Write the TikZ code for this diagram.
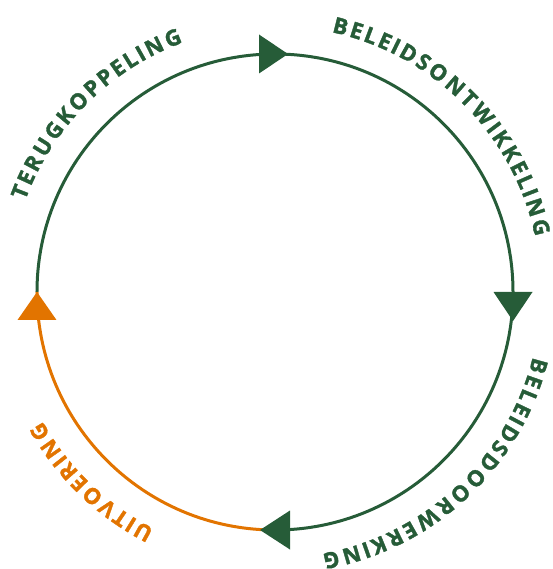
\documentclass[tikz,border=0pt]{standalone}
\usepackage{fontspec}
\setmainfont{Open Sans}
\newfontfamily\lblfam{Open Sans}[FakeBold=1.6]
\usetikzlibrary{decorations.text}
\definecolor{tgreen}{RGB}{38,92,56}
\definecolor{torange}{RGB}{226,116,0}
\newcommand\lblfont{\lblfam\bfseries\fontsize{22}{24}\selectfont}
\tikzset{
  ring/.style={line width=3pt},
  arctext/.style n args={2}{font=\lblfont, decorate, decoration={text effects along path,
      text={#1}, text effects/.cd, text along path, fit text to path,
      characters={text=#2, font=\lblfont}}}
}
\begin{document}
\begin{tikzpicture}[x=1pt,y=1pt]
\useasboundingbox (-275,-277) rectangle (277,292);
% ring
\coordinate (C) at (0,0);
\draw[ring, tgreen] (180:238pt) arc[start angle=180, end angle=-90, radius=238pt];
\draw[ring, torange] (-90:238pt) arc[start angle=-90, end angle=-180, radius=238pt];
% arrow heads
\coordinate (topTip) at (13,238);
\coordinate (rightTip) at (238,-29);
\coordinate (bottomTip) at (-15,-238);
\coordinate (leftTip) at (-238,0);
\fill[tgreen] (topTip) -- (-16,257.5) -- (-16,218.5) -- cycle;
\fill[tgreen] (rightTip) -- (218.5,0) -- (257.5,0) -- cycle;
\fill[tgreen] (bottomTip) -- (15,-218.5) -- (15,-257.5) -- cycle;
\fill[torange] (leftTip) -- (-257.5,-28) -- (-218.5,-28) -- cycle;
% labels
\path[arctext={TERUGKOPPELING}{tgreen}] (159.9:266pt) arc[start angle=159.9, end angle=110.2, radius=266pt];
\path[arctext={BELEIDSONTWIKKELING}{tgreen}] (77.7:266pt) arc[start angle=77.7, end angle=12, radius=266pt];
\path[arctext={BELEIDSDOORWERKING}{tgreen}] (-14.1:266pt) arc[start angle=-14.1, end angle=-79.8, radius=266pt];
\path[arctext={UITVOERING}{torange}] (-117:266pt) arc[start angle=-117, end angle=-151, radius=266pt];
\end{tikzpicture}
\end{document}
